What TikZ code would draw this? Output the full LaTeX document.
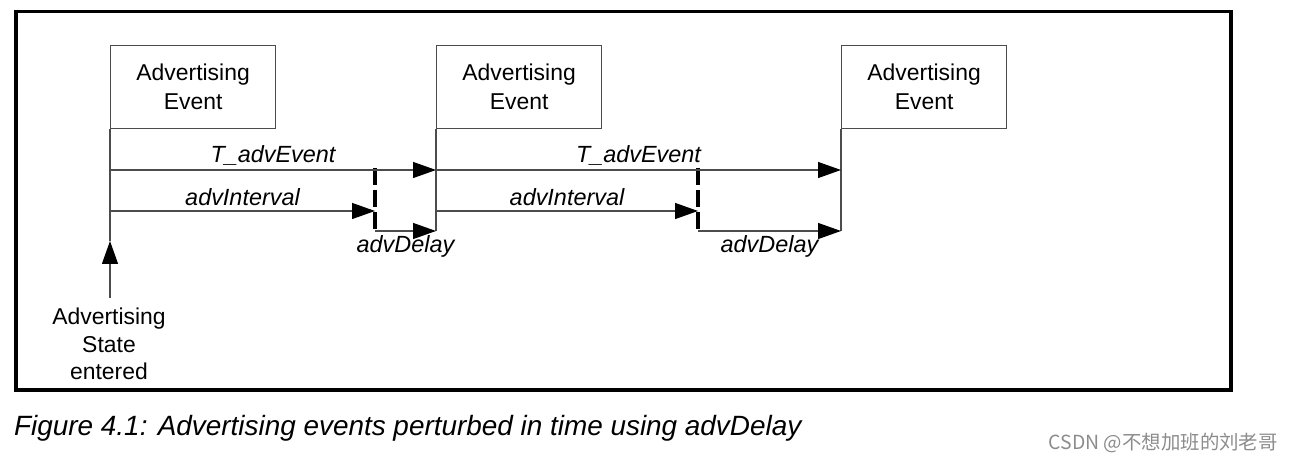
\documentclass[tikz,border=0pt]{standalone}
\usepackage{fontspec}
\setmainfont{Liberation Sans}
\newfontfamily\cjkfont{Noto Sans CJK SC}
\usetikzlibrary{arrows.meta, positioning}
\tikzset{
    % Event Box Style
    eventBox/.style={
        rectangle,
        draw=black!70,
        line width=1.2bp,
        minimum width=165bp,
        minimum height=83bp,
        inner sep=0pt,
        align=center,
        anchor=north west,
        font=\fontsize{23}{29}\selectfont
    },
    % Timeline Styles
    timeLine/.style={draw=black!70, line width=1.3bp},
    timeArrow/.style={timeLine, -{Triangle[length=23bp, width=16bp, color=black]}},
    delayMark/.style={draw=black, line width=4bp, dash pattern=on 17bp off 5bp},
    timeLabel/.style={font=\itshape\fontsize{23.5}{26}\selectfont, inner sep=3.5bp}
}

\begin{document}
\begin{tikzpicture}[x=1bp, y=-1bp]

    \useasboundingbox (0,0) rectangle (1293,463);

    % --- Frame ---
    \draw [line width=3.5bp] (16,11.5) rectangle (1231,390);

    % --- Advertising Events ---
    \node (event1) [eventBox] at (110,45) {Advertising\\Event};
    \node (event2) [eventBox] at (436,45) {Advertising\\Event};
    \node (event3) [eventBox] at (841,45) {Advertising\\Event};

    % --- Timeline points ---
    \coordinate (tEvent1) at (110,170);
    \coordinate (tEvent2) at (436,170);
    \coordinate (tEvent3) at (841,170);
    \coordinate (tInt1) at (110,211);
    \coordinate (tIntEnd1) at (375,211);
    \coordinate (tInt2) at (436,211);
    \coordinate (tIntEnd2) at (698,211);
    \coordinate (tDelay1) at (375,231);
    \coordinate (tDelayEnd1) at (436,231);
    \coordinate (tDelay2) at (698,231);
    \coordinate (tDelayEnd2) at (841,231);
    \coordinate (stateTip) at (110,241);

    % --- Event start lines ---
    \draw [timeLine] (event1.south west) -- (stateTip);
    \draw [timeLine] (event2.south west) -- (tDelayEnd1);
    \draw [timeLine] (event3.south west) -- (tDelayEnd2);

    % --- Perturbation marks ---
    \draw [delayMark] (375,168) -- (375,232);
    \draw [delayMark] (698,168) -- (698,232);

    % --- Arrows ---
    \draw [timeArrow] (tEvent1) -- (tEvent2)
        node [midway, above, timeLabel] (lblEvent1) {T\_advEvent};
    \draw [timeArrow] (tEvent2) -- (tEvent3)
        node [midway, above, timeLabel] (lblEvent2) {T\_advEvent};
    \draw [timeArrow] (tInt1) -- (tIntEnd1)
        node [midway, above, timeLabel, inner sep=5bp] (lblInt1) {advInterval};
    \draw [timeArrow] (tInt2) -- (tIntEnd2)
        node [midway, above, timeLabel, inner sep=5bp] (lblInt2) {advInterval};
    \draw [timeArrow] (tDelay1) -- (tDelayEnd1)
        node [midway, below, timeLabel, inner sep=3.5bp] (lblDelay1) {advDelay};
    \draw [timeArrow] (tDelay2) -- (tDelayEnd2)
        node [midway, below, timeLabel, inner sep=3.5bp] (lblDelay2) {advDelay};

    % --- Advertising State entered ---
    \node (state) [align=center, anchor=north, inner sep=0pt,
        font=\fontsize{23}{27.5}\selectfont] at (109,308) {Advertising\\State\\entered};
    \draw [timeArrow] (110,298) -- (stateTip);

    % --- Caption & watermark ---
    \node (caption) [anchor=west, inner sep=0pt, font=\itshape\fontsize{28}{32}\selectfont]
        at (14,428) {Figure 4.1: Advertising events perturbed in time using advDelay};
    \node (watermark) [anchor=east, inner sep=0pt, text=black!45,
        font=\cjkfont\fontsize{19.5}{22}\selectfont] at (1278,443) {CSDN @不想加班的刘老哥};

\end{tikzpicture}
\end{document}
